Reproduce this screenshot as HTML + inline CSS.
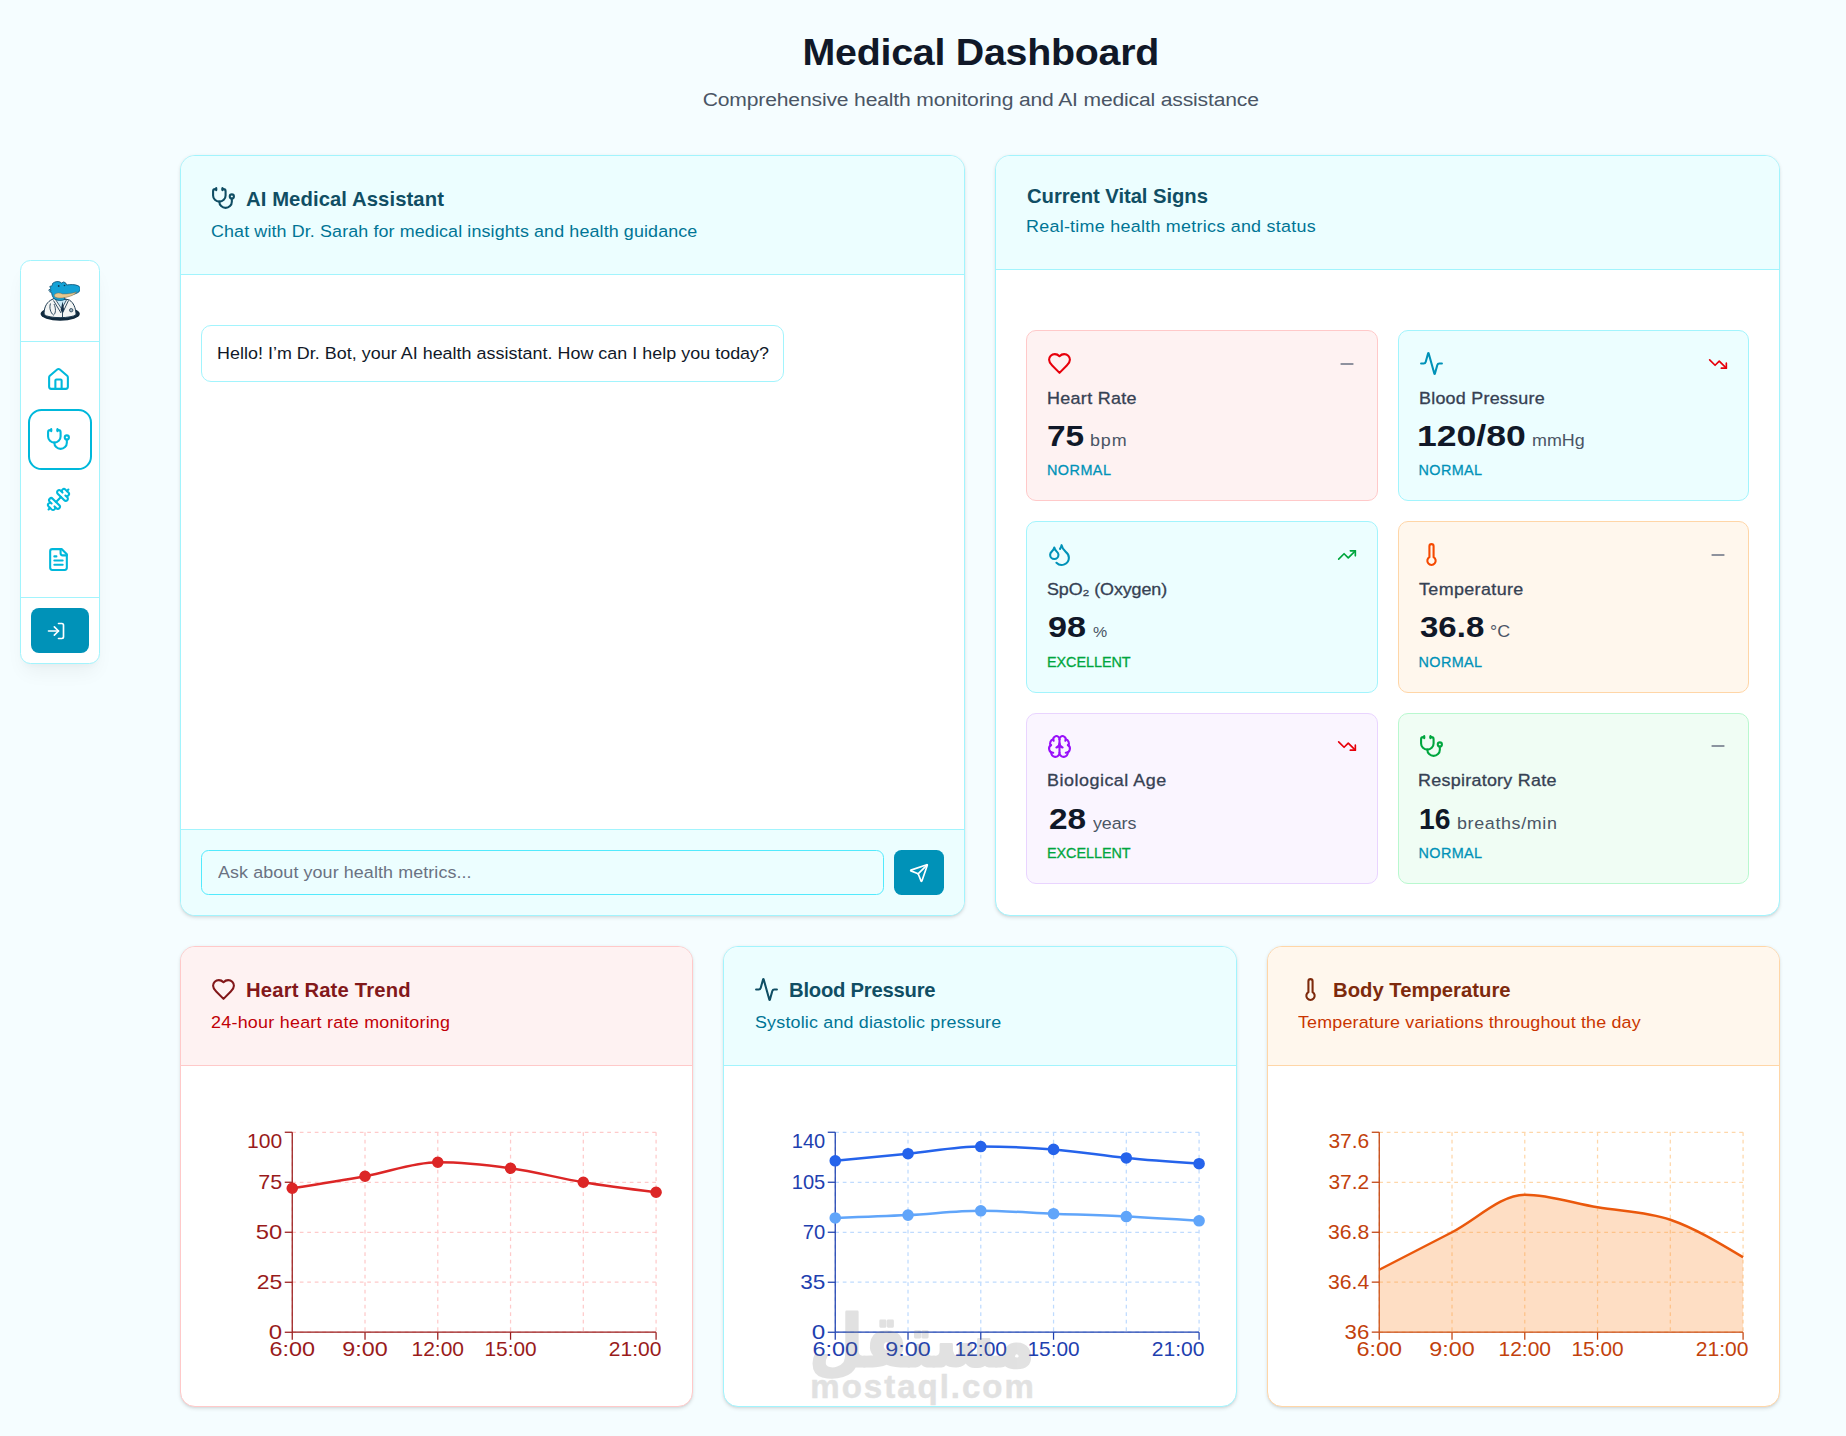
<!DOCTYPE html>
<html lang="en">
<head>
<meta charset="utf-8">
<title>Medical Dashboard</title>
<style>
*{box-sizing:border-box}
html,body{margin:0;padding:0}
body{width:1846px;height:1436px;overflow:hidden;position:relative;background:#f5fdff;font-family:"Liberation Sans",sans-serif;color:#101828;-webkit-font-smoothing:antialiased}
h1,h2,p{margin:0}
svg.ic{display:block;flex:none}
/* sidebar */
.side{position:absolute;left:20px;top:260px;width:80px;background:#fff;border:1px solid #a2f4fd;border-radius:10.5px;box-shadow:0 12px 19px -4px rgba(0,0,0,.05),0 5px 8px -5px rgba(0,0,0,.05)}
.s-logo{height:81px;border-bottom:1px solid #a2f4fd;display:flex;align-items:center;justify-content:center}
.s-logo svg{display:block}
.s-nav{padding:7.5px 0;display:flex;flex-direction:column;align-items:center}
.ni{width:78px;height:60px;display:flex;align-items:center;justify-content:center;position:relative}
.ni svg{position:relative;left:-1.5px}
.ni.act::before{content:"";position:absolute;left:7.4px;top:-0.6px;width:63.2px;height:61.2px;border:2.7px solid #00b8db;border-radius:13.5px;box-sizing:border-box}
.s-bot{border-top:1px solid #a2f4fd;padding:10px}
.login{display:flex;align-items:center;justify-content:center;width:58px;height:45px;border:0;border-radius:8px;background:#0092b8;padding:0;margin:0}
/* main */
main{position:absolute;left:180px;top:0;width:1600px}
.ph{padding-top:30px;text-align:center;height:155px}
.ph h1{font-size:37.5px;line-height:45px;font-weight:700;color:#101828}
.ph p{margin-top:10px;font-size:19.2px;line-height:30px;color:#4a5565}
.row1{display:flex;gap:30px;height:761px}
.row1 .card{width:785px;height:761px;display:flex;flex-direction:column}
.row2{display:flex;gap:30px;margin-top:30px}
.row2 .card{flex:1 1 0;min-width:0}
.card{background:#fff;border:1px solid #a2f4fd;border-radius:15px;overflow:hidden;box-shadow:0 1.25px 3.75px rgba(0,0,0,.1),0 1.25px 2.5px -1.25px rgba(0,0,0,.1);position:relative}
.chead{padding:30px;background:#ecfeff;border-bottom:1px solid #a2f4fd}
.ctitle{display:flex;align-items:center;gap:10px}
.ctitle h2{font-size:19.3px;line-height:20px;font-weight:700;color:#104e64}
.cdesc{margin-top:7.5px;font-size:16.3px;line-height:25px;color:#007595}
/* chat */
.msgs{flex:1;padding:50px 20px 20px}
.bubble{display:inline-block;padding:15px;border:1px solid #a2f4fd;border-radius:10px;background:#fff;font-size:16.3px;line-height:25px;color:#101828;white-space:nowrap;width:583.3px}
.inrow{border-top:1px solid #a2f4fd;background:#ecfeff;padding:20px;display:flex;gap:10px}
.inp{flex:1;height:45px;border:1px solid #53eafd;border-radius:7.5px;background:#ecfeff;padding:0 15px;font-size:16.3px;line-height:43px;color:#6a7282}
.send{width:50px;height:45px;border:0;border-radius:7.5px;background:#0092b8;display:flex;align-items:center;justify-content:center;padding:0}
/* vitals */
.vgrid{padding:60.5px 30px 30px;display:grid;grid-template-columns:1fr 1fr;column-gap:20px;row-gap:20px}
.vc{height:171.4px;border:1px solid;border-radius:10px;padding:20px}
.vc.red{background:#fef2f2;border-color:#ffc9c9}
.vc.cyan{background:#ecfeff;border-color:#a2f4fd}
.vc.orange{background:#fff7ed;border-color:#ffd6a7}
.vc.purple{background:#faf5ff;border-color:#e9d4ff}
.vc.green{background:#f0fdf4;border-color:#b9f8cf}
.vtop{display:flex;align-items:center;justify-content:space-between;height:25px}
.vlab{margin-top:9.7px;font-size:16.3px;line-height:25px;color:#364153}
.vval{margin-top:5.3px;line-height:40px;height:40px;white-space:nowrap}
.vval .num{font-size:30px;font-weight:700;color:#101828}
.vval .unit{font-size:16.3px;color:#4a5565}
.vst{margin-top:4.5px;font-size:14.4px;line-height:20px;text-transform:uppercase}
.vval .unit{margin-left:6px}
.vst.norm{color:#0092b8}
.vst.exc{color:#00a63e}
/* chart cards */
.cc.c-red{border-color:#ffc9c9}
.cc.c-red .chead{background:#fef2f2;border-color:#ffc9c9}
.cc.c-red h2{color:#82181a}
.cc.c-red .cdesc{color:#c10007}
.cc.c-orange{border-color:#ffd6a7}
.cc.c-orange .chead{background:#fff7ed;border-color:#ffd6a7}
.cc.c-orange h2{color:#7e2a0c}
.cc.c-orange .cdesc{color:#ca3500}
.cbody{padding:60px 30px 30px;position:relative}
/* watermark */
.wm{position:absolute;left:0;top:0;width:100%;height:100%;color:#6e6e6e;opacity:.2;font-weight:700;pointer-events:none}
.wm-ar{position:absolute;left:60px;top:200px;overflow:visible}
.wm-en{position:absolute;left:86px;top:303px;font-family:"Liberation Sans",sans-serif;font-size:33px;line-height:36px;letter-spacing:2px;white-space:nowrap;-webkit-text-stroke:.6px #6e6e6e}
.vlab,.vst{-webkit-text-stroke:.3px currentColor}
.login svg{position:relative;left:-3.6px}
#v3-unit{font-size:14.5px}
.ctitle h2{position:relative;top:.7px}
.ctitle svg+h2{top:1.5px}

/* per-run tracking to match reference metrics */
#c1-desc{letter-spacing:0.23px;display:inline-block;white-space:nowrap;transform:scaleX(1.100);transform-origin:0 50%}
#c1-title{letter-spacing:0.16px;display:inline-block;white-space:nowrap;transform:scaleX(1.050);transform-origin:0 50%}
#c2-desc{letter-spacing:0.16px;display:inline-block;white-space:nowrap;transform:scaleX(1.100);transform-origin:0 50%;position:relative;left:1.0px}
#c2-title{letter-spacing:-0.22px;display:inline-block;white-space:nowrap;transform:scaleX(1.050);transform-origin:0 50%}
#c3-desc{letter-spacing:0.14px;display:inline-block;white-space:nowrap;transform:scaleX(1.100);transform-origin:0 50%;position:relative;left:0.5px}
#c3-title{letter-spacing:0.01px;display:inline-block;white-space:nowrap;transform:scaleX(1.050);transform-origin:0 50%}
#t-bubble{letter-spacing:0.02px;display:inline-block;white-space:nowrap;transform:scaleX(1.100);transform-origin:0 50%}
#t-chat-desc{letter-spacing:0.10px;display:inline-block;white-space:nowrap;transform:scaleX(1.100);transform-origin:0 50%}
#t-chat-title{letter-spacing:0.09px;display:inline-block;white-space:nowrap;transform:scaleX(1.050);transform-origin:0 50%}
#t-h1{letter-spacing:-0.25px;display:inline-block;white-space:nowrap;transform:scaleX(1.050);transform-origin:50% 50%;position:relative;left:0.6px}
#t-ph{letter-spacing:0.08px;display:inline-block;white-space:nowrap;transform:scaleX(1.100);transform-origin:0 50%;position:relative;left:1.3px}
#t-sub{letter-spacing:-0.15px;display:inline-block;white-space:nowrap;transform:scaleX(1.100);transform-origin:50% 50%;position:relative;left:0.5px}
#t-vit-desc{letter-spacing:0.24px;display:inline-block;white-space:nowrap;transform:scaleX(1.100);transform-origin:0 50%}
#t-vit-title{letter-spacing:-0.05px;display:inline-block;white-space:nowrap;transform:scaleX(1.050);transform-origin:0 50%;position:relative;left:0.6px}
#v1-lab{letter-spacing:0.30px;display:inline-block;white-space:nowrap;transform:scaleX(1.100);transform-origin:0 50%}
#v1-num{display:inline-block;white-space:nowrap;transform:scaleX(1.114);transform-origin:0 50%}
#v1-st{letter-spacing:0.47px}
#v1-unit{letter-spacing:0.81px;display:inline-block;white-space:nowrap;transform:scaleX(1.100);transform-origin:0 50%;margin-left:9.4px}
#v2-lab{letter-spacing:0.22px;display:inline-block;white-space:nowrap;transform:scaleX(1.100);transform-origin:0 50%}
#v2-num{display:inline-block;white-space:nowrap;transform:scaleX(1.186);transform-origin:0 50%;position:relative;left:-1.4px}
#v2-st{letter-spacing:0.40px}
#v2-unit{display:inline-block;white-space:nowrap;transform:scaleX(1.100);transform-origin:0 50%;margin-left:21.8px}
#v3-lab{letter-spacing:-0.10px;display:inline-block;white-space:nowrap;transform:scaleX(1.100);transform-origin:0 50%}
#v3-num{display:inline-block;white-space:nowrap;transform:scaleX(1.140);transform-origin:0 50%;position:relative;left:1.0px}
#v3-st{letter-spacing:-0.04px}
#v3-unit{display:inline-block;white-space:nowrap;transform:scaleX(1.100);transform-origin:0 50%;margin-left:12.4px}
#v4-lab{letter-spacing:0.34px;display:inline-block;white-space:nowrap;transform:scaleX(1.100);transform-origin:0 50%;position:relative;left:0.2px}
#v4-num{display:inline-block;white-space:nowrap;transform:scaleX(1.101);transform-origin:0 50%;position:relative;left:1.0px}
#v4-st{letter-spacing:0.40px}
#v4-unit{display:inline-block;white-space:nowrap;transform:scaleX(1.100);transform-origin:0 50%;margin-left:12.8px}
#v5-lab{letter-spacing:0.47px;display:inline-block;white-space:nowrap;transform:scaleX(1.100);transform-origin:0 50%}
#v5-num{display:inline-block;white-space:nowrap;transform:scaleX(1.112);transform-origin:0 50%;position:relative;left:1.5px}
#v5-st{letter-spacing:-0.04px}
#v5-unit{letter-spacing:-0.08px;display:inline-block;white-space:nowrap;transform:scaleX(1.100);transform-origin:0 50%;margin-left:12.4px}
#v6-lab{letter-spacing:0.25px;display:inline-block;white-space:nowrap;transform:scaleX(1.100);transform-origin:0 50%;position:relative;left:-0.8px}
#v6-num{display:inline-block;white-space:nowrap;transform:scaleX(0.943);transform-origin:0 50%}
#v6-st{letter-spacing:0.40px}
#v6-unit{letter-spacing:0.58px;display:inline-block;white-space:nowrap;transform:scaleX(1.100);transform-origin:0 50%;margin-left:5.5px}
</style>
</head>
<body>
<aside class="side">
  <div class="s-logo"><svg class="logo" width="40" height="40" viewBox="0 0 40 40">
<ellipse cx="20.2" cy="32.8" rx="19.6" ry="6.9" fill="#10293c"/>
<path d="M4.2 33.5c-.4-6 1.8-11.5 6.5-14.3l3.3-1.7h9.5l6 1.6c4 2.6 6.2 7.6 6.6 14.4-4 4.2-28 4.2-31.9 0z" fill="#f3f5f4" stroke="#1d3a50" stroke-width="1"/>
<path d="M15.5 18.5l6.2 9.5 5-9.5z" fill="#c9e9f6" stroke="#1d3a50" stroke-width=".8"/>
<path d="M22.6 20.5l1.6 8.5-1.9 3.2-1.7-3.2z" fill="#17324a"/>
<path d="M13.5 19.5l7.5 12.5M28.5 19.5l-6 12.5v5" fill="none" stroke="#1d3a50" stroke-width=".9"/>
<path d="M10.5 22.5c-1.5 4 0 9.5 3 11.5 2.5-1.5 2.5-7 .5-11" fill="none" stroke="#1d3a50" stroke-width=".9"/>
<circle cx="31.2" cy="29.2" r="1.7" fill="#9fb3bf" stroke="#1d3a50" stroke-width=".8"/>
<path d="M8.6 9.2l2.1-1.5-.9-2.3 2.4-.7.3-2.2c2.4-2 5.2-2.5 7.5-1.5l1.5 1 2.3-1.1 2.2 1.4.6 1.7c3.5-.5 8-.8 11.2.6 2.2.9 3 2.8 2.3 4.6-.8 2-3.2 3.2-6.2 4l-9.5 2.7.5 2.5c-3 1.6-7 1.5-10.6-.4-1.7-2-2.6-4.4-2.7-6.6l-2-.5 1.5-1.8z" fill="#14a2d6" stroke="#0d4f72" stroke-width=".8" stroke-linejoin="round"/>
<path d="M14.7 13.3c2.5-1.8 5.5-1.6 7.8-.4 4.5.2 9.5-.5 14-2-1.5 2.7-6 4.6-11.5 5.6-3.5.7-7.5.9-9.5-.2-1.3-.7-1.6-2.1-.8-3z" fill="#e6c88e" stroke="#7a6a52" stroke-width=".5"/>
<circle cx="18.7" cy="5" r=".9" fill="#0d3550"/><circle cx="24.5" cy="4.5" r=".8" fill="#0d3550"/>
</svg>
</div>
  <nav class="s-nav">
    <a class="ni"><svg class="ic " width="25" height="25" viewBox="0 0 24 24" fill="none" stroke="#00b8db" stroke-width="2" stroke-linecap="round" stroke-linejoin="round" style=""><path d="M15 21v-8a1 1 0 0 0-1-1h-4a1 1 0 0 0-1 1v8"/><path d="M3 10a2 2 0 0 1 .709-1.528l7-5.999a2 2 0 0 1 2.582 0l7 5.999A2 2 0 0 1 21 10v9a2 2 0 0 1-2 2H5a2 2 0 0 1-2-2z"/></svg></a>
    <a class="ni act"><svg class="ic " width="25" height="25" viewBox="0 0 24 24" fill="none" stroke="#00b8db" stroke-width="2" stroke-linecap="round" stroke-linejoin="round" style=""><path d="M11 2v2"/><path d="M5 2v2"/><path d="M5 3H4a2 2 0 0 0-2 2v4a6 6 0 0 0 12 0V5a2 2 0 0 0-2-2h-1"/><path d="M8 15a6 6 0 0 0 12 0v-3"/><circle cx="20" cy="10" r="2"/></svg></a>
    <a class="ni"><svg class="ic " width="25" height="25" viewBox="0 0 24 24" fill="none" stroke="#00b8db" stroke-width="2" stroke-linecap="round" stroke-linejoin="round" style=""><path d="M17.596 12.768a2 2 0 1 0 2.829-2.829l-1.768-1.767a2 2 0 0 0 2.828-2.829l-2.828-2.828a2 2 0 0 0-2.829 2.828l-1.767-1.768a2 2 0 1 0-2.829 2.829z"/><path d="m2.5 21.5 1.4-1.4"/><path d="m20.1 3.9 1.4-1.4"/><path d="M5.343 21.485a2 2 0 1 0 2.829-2.828l1.767 1.768a2 2 0 1 0 2.829-2.829l-6.364-6.364a2 2 0 1 0-2.829 2.829l1.768 1.767a2 2 0 0 0-2.828 2.829z"/><path d="m9.6 14.4 4.8-4.8"/></svg></a>
    <a class="ni"><svg class="ic " width="25" height="25" viewBox="0 0 24 24" fill="none" stroke="#00b8db" stroke-width="2" stroke-linecap="round" stroke-linejoin="round" style=""><path d="M15 2H6a2 2 0 0 0-2 2v16a2 2 0 0 0 2 2h12a2 2 0 0 0 2-2V7Z"/><path d="M14 2v4a2 2 0 0 0 2 2h4"/><path d="M10 9H8"/><path d="M16 13H8"/><path d="M16 17H8"/></svg></a>
  </nav>
  <div class="s-bot"><button class="login"><svg class="ic " width="20" height="20" viewBox="0 0 24 24" fill="none" stroke="#ffffff" stroke-width="2" stroke-linecap="round" stroke-linejoin="round" style=""><path d="M15 3h4a2 2 0 0 1 2 2v14a2 2 0 0 1-2 2h-4"/><polyline points="10 17 15 12 10 7"/><line x1="15" x2="3" y1="12" y2="12"/></svg></button></div>
</aside>
<main>
  <header class="ph">
    <h1><span id="t-h1">Medical Dashboard</span></h1>
    <p><span id="t-sub">Comprehensive health monitoring and AI medical assistance</span></p>
  </header>
  <div class="row1">
    <section class="card chat">
      <div class="chead"><div class="ctitle"><svg class="ic " width="25" height="25" viewBox="0 0 24 24" fill="none" stroke="#104e64" stroke-width="2" stroke-linecap="round" stroke-linejoin="round" style=""><path d="M11 2v2"/><path d="M5 2v2"/><path d="M5 3H4a2 2 0 0 0-2 2v4a6 6 0 0 0 12 0V5a2 2 0 0 0-2-2h-1"/><path d="M8 15a6 6 0 0 0 12 0v-3"/><circle cx="20" cy="10" r="2"/></svg><h2><span id="t-chat-title">AI Medical Assistant</span></h2></div><p class="cdesc"><span id="t-chat-desc">Chat with Dr. Sarah for medical insights and health guidance</span></p></div>
      <div class="msgs"><div class="bubble"><span id="t-bubble">Hello! I’m Dr. Bot, your AI health assistant. How can I help you today?</span></div></div>
      <div class="inrow"><div class="inp"><span id="t-ph">Ask about your health metrics...</span></div><button class="send"><svg class="ic " width="20" height="20" viewBox="0 0 24 24" fill="none" stroke="#ffffff" stroke-width="2" stroke-linecap="round" stroke-linejoin="round" style=""><path d="M14.536 21.686a.5.5 0 0 0 .937-.024l6.5-19a.496.496 0 0 0-.635-.635l-19 6.5a.5.5 0 0 0-.024.937l7.93 3.18a2 2 0 0 1 1.112 1.11z"/><path d="m21.854 2.147-10.94 10.939"/></svg></button></div>
    </section>
    <section class="card vit">
      <div class="chead"><div class="ctitle"><h2><span id="t-vit-title">Current Vital Signs</span></h2></div><p class="cdesc"><span id="t-vit-desc">Real-time health metrics and status</span></p></div>
      <div class="vgrid">
<div class="vc red">
  <div class="vtop"><svg class="ic " width="25" height="25" viewBox="0 0 24 24" fill="none" stroke="#e7000b" stroke-width="2" stroke-linecap="round" stroke-linejoin="round" style=""><path d="M19 14c1.49-1.46 3-3.21 3-5.5A5.5 5.5 0 0 0 16.5 3c-1.76 0-3 .5-4.5 2-1.5-1.5-2.74-2-4.5-2A5.5 5.5 0 0 0 2 8.5c0 2.3 1.5 4.05 3 5.5l7 7Z"/></svg><svg class="ic " width="20" height="20" viewBox="0 0 24 24" fill="none" stroke="#6a7282" stroke-width="2" stroke-linecap="round" stroke-linejoin="round" style=""><path d="M5 12h14"/></svg></div>
  <div class="vlab"><span id="v1-lab">Heart Rate</span></div>
  <div class="vval"><span class="num" id="v1-num">75</span><span class="unit" id="v1-unit">bpm</span></div>
  <div class="vst norm"><span id="v1-st">NORMAL</span></div>
</div>
<div class="vc cyan">
  <div class="vtop"><svg class="ic " width="25" height="25" viewBox="0 0 24 24" fill="none" stroke="#0092b8" stroke-width="2" stroke-linecap="round" stroke-linejoin="round" style=""><path d="M22 12h-2.48a2 2 0 0 0-1.93 1.46l-2.35 8.36a.25.25 0 0 1-.48 0L9.24 2.18a.25.25 0 0 0-.48 0l-2.35 8.36A2 2 0 0 1 4.49 12H2"/></svg><svg class="ic " width="20" height="20" viewBox="0 0 24 24" fill="none" stroke="#e7000b" stroke-width="2" stroke-linecap="round" stroke-linejoin="round" style=""><polyline points="22 17 13.5 8.5 8.5 13.5 2 7"/><polyline points="16 17 22 17 22 11"/></svg></div>
  <div class="vlab"><span id="v2-lab">Blood Pressure</span></div>
  <div class="vval"><span class="num" id="v2-num">120/80</span><span class="unit" id="v2-unit">mmHg</span></div>
  <div class="vst norm"><span id="v2-st">NORMAL</span></div>
</div>
<div class="vc cyan">
  <div class="vtop"><svg class="ic " width="25" height="25" viewBox="0 0 24 24" fill="none" stroke="#0092b8" stroke-width="2" stroke-linecap="round" stroke-linejoin="round" style=""><path d="M7 16.3c2.2 0 4-1.83 4-4.05 0-1.16-.57-2.26-1.71-3.19S7.29 6.75 7 5.3c-.29 1.45-1.14 2.84-2.29 3.76S3 11.1 3 12.25c0 2.22 1.8 4.05 4 4.05z"/><path d="M12.56 6.6A10.97 10.97 0 0 0 14 3.02c.5 2.5 2 4.9 4 6.5s3 3.5 3 5.5a6.98 6.98 0 0 1-11.91 4.97"/></svg><svg class="ic " width="20" height="20" viewBox="0 0 24 24" fill="none" stroke="#00a63e" stroke-width="2" stroke-linecap="round" stroke-linejoin="round" style=""><polyline points="22 7 13.5 15.5 8.5 10.5 2 17"/><polyline points="16 7 22 7 22 13"/></svg></div>
  <div class="vlab"><span id="v3-lab">SpO₂ (Oxygen)</span></div>
  <div class="vval"><span class="num" id="v3-num">98</span><span class="unit" id="v3-unit">%</span></div>
  <div class="vst exc"><span id="v3-st">EXCELLENT</span></div>
</div>
<div class="vc orange">
  <div class="vtop"><svg class="ic " width="25" height="25" viewBox="0 0 24 24" fill="none" stroke="#f54900" stroke-width="2" stroke-linecap="round" stroke-linejoin="round" style=""><path d="M14 4v10.54a4 4 0 1 1-4 0V4a2 2 0 0 1 4 0Z"/></svg><svg class="ic " width="20" height="20" viewBox="0 0 24 24" fill="none" stroke="#6a7282" stroke-width="2" stroke-linecap="round" stroke-linejoin="round" style=""><path d="M5 12h14"/></svg></div>
  <div class="vlab"><span id="v4-lab">Temperature</span></div>
  <div class="vval"><span class="num" id="v4-num">36.8</span><span class="unit" id="v4-unit">°C</span></div>
  <div class="vst norm"><span id="v4-st">NORMAL</span></div>
</div>
<div class="vc purple">
  <div class="vtop"><svg class="ic " width="25" height="25" viewBox="0 0 24 24" fill="none" stroke="#9810fa" stroke-width="2" stroke-linecap="round" stroke-linejoin="round" style=""><path d="M12 18V5"/><path d="M15 13a4.17 4.17 0 0 1-3-4 4.17 4.17 0 0 1-3 4"/><path d="M17.598 6.5A3 3 0 1 0 12 5a3 3 0 1 0-5.598 1.500"/><path d="M17.997 5.125a4 4 0 0 1 2.526 5.770"/><path d="M18 18a4 4 0 0 0 2-7.464"/><path d="M19.967 17.483A4 4 0 1 1 12 18a4 4 0 1 1-7.967-.517"/><path d="M6 18a4 4 0 0 1-2-7.464"/><path d="M6.003 5.125a4 4 0 0 0-2.526 5.770"/></svg><svg class="ic " width="20" height="20" viewBox="0 0 24 24" fill="none" stroke="#e7000b" stroke-width="2" stroke-linecap="round" stroke-linejoin="round" style=""><polyline points="22 17 13.5 8.5 8.5 13.5 2 7"/><polyline points="16 17 22 17 22 11"/></svg></div>
  <div class="vlab"><span id="v5-lab">Biological Age</span></div>
  <div class="vval"><span class="num" id="v5-num">28</span><span class="unit" id="v5-unit">years</span></div>
  <div class="vst exc"><span id="v5-st">EXCELLENT</span></div>
</div>
<div class="vc green">
  <div class="vtop"><svg class="ic " width="25" height="25" viewBox="0 0 24 24" fill="none" stroke="#00a63e" stroke-width="2" stroke-linecap="round" stroke-linejoin="round" style=""><path d="M11 2v2"/><path d="M5 2v2"/><path d="M5 3H4a2 2 0 0 0-2 2v4a6 6 0 0 0 12 0V5a2 2 0 0 0-2-2h-1"/><path d="M8 15a6 6 0 0 0 12 0v-3"/><circle cx="20" cy="10" r="2"/></svg><svg class="ic " width="20" height="20" viewBox="0 0 24 24" fill="none" stroke="#6a7282" stroke-width="2" stroke-linecap="round" stroke-linejoin="round" style=""><path d="M5 12h14"/></svg></div>
  <div class="vlab"><span id="v6-lab">Respiratory Rate</span></div>
  <div class="vval"><span class="num" id="v6-num">16</span><span class="unit" id="v6-unit">breaths/min</span></div>
  <div class="vst norm"><span id="v6-st">NORMAL</span></div>
</div>
      </div>
    </section>
  </div>
  <div class="row2">
    <section class="card cc c-red">
  <div class="chead"><div class="ctitle"><svg class="ic " width="25" height="25" viewBox="0 0 24 24" fill="none" stroke="#82181a" stroke-width="2" stroke-linecap="round" stroke-linejoin="round" style=""><path d="M19 14c1.49-1.46 3-3.21 3-5.5A5.5 5.5 0 0 0 16.5 3c-1.76 0-3 .5-4.5 2-1.5-1.5-2.74-2-4.5-2A5.5 5.5 0 0 0 2 8.5c0 2.3 1.5 4.05 3 5.5l7 7Z"/></svg><h2><span id="c1-title">Heart Rate Trend</span></h2></div><p class="cdesc"><span id="c1-desc">24-hour heart rate monitoring</span></p></div>
  <div class="cbody"><svg class="chart" width="451.33" height="250" viewBox="0 0 451.33 250" style="display:block;overflow:visible">
<g stroke="#fecaca" stroke-width="1.25" stroke-dasharray="3.75 3.75" fill="none">
<line x1="81.25" x2="445.08" y1="206.25" y2="206.25"/>
<line x1="81.25" x2="445.08" y1="156.25" y2="156.25"/>
<line x1="81.25" x2="445.08" y1="106.25" y2="106.25"/>
<line x1="81.25" x2="445.08" y1="56.25" y2="56.25"/>
<line x1="81.25" x2="445.08" y1="6.25" y2="6.25"/>
<line x1="81.25" x2="81.25" y1="6.25" y2="206.25"/>
<line x1="154.02" x2="154.02" y1="6.25" y2="206.25"/>
<line x1="226.78" x2="226.78" y1="6.25" y2="206.25"/>
<line x1="299.55" x2="299.55" y1="6.25" y2="206.25"/>
<line x1="372.31" x2="372.31" y1="6.25" y2="206.25"/>
<line x1="445.08" x2="445.08" y1="6.25" y2="206.25"/>
</g>
<g stroke="#991b1b" stroke-width="1.25" fill="none">
<line x1="81.25" x2="445.08" y1="206.25" y2="206.25"/>
<line x1="81.25" x2="81.25" y1="6.25" y2="206.25"/>
<line x1="81.25" x2="81.25" y1="206.25" y2="213.75"/>
<line x1="154.02" x2="154.02" y1="206.25" y2="213.75"/>
<line x1="226.78" x2="226.78" y1="206.25" y2="213.75"/>
<line x1="299.55" x2="299.55" y1="206.25" y2="213.75"/>
<line x1="445.08" x2="445.08" y1="206.25" y2="213.75"/>
<line x1="73.75" x2="81.25" y1="206.25" y2="206.25"/>
<line x1="73.75" x2="81.25" y1="156.25" y2="156.25"/>
<line x1="73.75" x2="81.25" y1="106.25" y2="106.25"/>
<line x1="73.75" x2="81.25" y1="56.25" y2="56.25"/>
<line x1="73.75" x2="81.25" y1="6.25" y2="6.25"/>
</g>
<path d="M81.25,62.25C105.51,58.42,129.76,54.58,154.02,50.25C178.27,45.92,202.53,36.25,226.78,36.25C251.04,36.25,275.29,38.92,299.55,42.25C323.80,45.58,348.06,52.25,372.31,56.25C396.57,60.25,420.82,63.25,445.08,66.25" fill="none" stroke="#dc2626" stroke-width="2.5"/>
<circle cx="81.25" cy="62.25" r="5" fill="#dc2626" stroke="#dc2626" stroke-width="1.6"/>
<circle cx="154.02" cy="50.25" r="5" fill="#dc2626" stroke="#dc2626" stroke-width="1.6"/>
<circle cx="226.78" cy="36.25" r="5" fill="#dc2626" stroke="#dc2626" stroke-width="1.6"/>
<circle cx="299.55" cy="42.25" r="5" fill="#dc2626" stroke="#dc2626" stroke-width="1.6"/>
<circle cx="372.31" cy="56.25" r="5" fill="#dc2626" stroke="#dc2626" stroke-width="1.6"/>
<circle cx="445.08" cy="66.25" r="5" fill="#dc2626" stroke="#dc2626" stroke-width="1.6"/>
<g fill="#991b1b" font-family="Liberation Sans, sans-serif" font-size="20">
<text x="81.25" y="230.45" text-anchor="middle" textLength="45.6" lengthAdjust="spacingAndGlyphs">6:00</text>
<text x="154.02" y="230.45" text-anchor="middle" textLength="45.4" lengthAdjust="spacingAndGlyphs">9:00</text>
<text x="226.78" y="230.45" text-anchor="middle" textLength="52.6" lengthAdjust="spacingAndGlyphs">12:00</text>
<text x="299.55" y="230.45" text-anchor="middle" textLength="52.2" lengthAdjust="spacingAndGlyphs">15:00</text>
<text x="450.53" y="230.45" text-anchor="end" textLength="52.7" lengthAdjust="spacingAndGlyphs">21:00</text>
<text x="71.25" y="213.35" text-anchor="end" textLength="13.4" lengthAdjust="spacingAndGlyphs">0</text>
<text x="71.25" y="163.35" text-anchor="end" textLength="25.6" lengthAdjust="spacingAndGlyphs">25</text>
<text x="71.25" y="113.35" text-anchor="end" textLength="26.5" lengthAdjust="spacingAndGlyphs">50</text>
<text x="71.25" y="63.35" text-anchor="end" textLength="23.9" lengthAdjust="spacingAndGlyphs">75</text>
<text x="71.25" y="21.95" text-anchor="end" textLength="35.2" lengthAdjust="spacingAndGlyphs">100</text>
</g></svg></div>
</section>
    <section class="card cc c-cyan">
  <div class="chead"><div class="ctitle"><svg class="ic " width="25" height="25" viewBox="0 0 24 24" fill="none" stroke="#104e64" stroke-width="2" stroke-linecap="round" stroke-linejoin="round" style=""><path d="M22 12h-2.48a2 2 0 0 0-1.93 1.46l-2.35 8.36a.25.25 0 0 1-.48 0L9.24 2.18a.25.25 0 0 0-.48 0l-2.35 8.36A2 2 0 0 1 4.49 12H2"/></svg><h2><span id="c2-title">Blood Pressure</span></h2></div><p class="cdesc"><span id="c2-desc">Systolic and diastolic pressure</span></p></div>
  <div class="cbody"><svg class="chart" width="451.33" height="250" viewBox="0 0 451.33 250" style="display:block;overflow:visible">
<g stroke="#bfdbfe" stroke-width="1.25" stroke-dasharray="3.75 3.75" fill="none">
<line x1="81.25" x2="445.08" y1="206.25" y2="206.25"/>
<line x1="81.25" x2="445.08" y1="156.25" y2="156.25"/>
<line x1="81.25" x2="445.08" y1="106.25" y2="106.25"/>
<line x1="81.25" x2="445.08" y1="56.25" y2="56.25"/>
<line x1="81.25" x2="445.08" y1="6.25" y2="6.25"/>
<line x1="81.25" x2="81.25" y1="6.25" y2="206.25"/>
<line x1="154.02" x2="154.02" y1="6.25" y2="206.25"/>
<line x1="226.78" x2="226.78" y1="6.25" y2="206.25"/>
<line x1="299.55" x2="299.55" y1="6.25" y2="206.25"/>
<line x1="372.31" x2="372.31" y1="6.25" y2="206.25"/>
<line x1="445.08" x2="445.08" y1="6.25" y2="206.25"/>
</g>
<g stroke="#1e40af" stroke-width="1.25" fill="none">
<line x1="81.25" x2="445.08" y1="206.25" y2="206.25"/>
<line x1="81.25" x2="81.25" y1="6.25" y2="206.25"/>
<line x1="81.25" x2="81.25" y1="206.25" y2="213.75"/>
<line x1="154.02" x2="154.02" y1="206.25" y2="213.75"/>
<line x1="226.78" x2="226.78" y1="206.25" y2="213.75"/>
<line x1="299.55" x2="299.55" y1="206.25" y2="213.75"/>
<line x1="445.08" x2="445.08" y1="206.25" y2="213.75"/>
<line x1="73.75" x2="81.25" y1="206.25" y2="206.25"/>
<line x1="73.75" x2="81.25" y1="156.25" y2="156.25"/>
<line x1="73.75" x2="81.25" y1="106.25" y2="106.25"/>
<line x1="73.75" x2="81.25" y1="56.25" y2="56.25"/>
<line x1="73.75" x2="81.25" y1="6.25" y2="6.25"/>
</g>
<path d="M81.25,34.82C105.51,32.44,129.76,30.06,154.02,27.68C178.27,25.30,202.53,20.54,226.78,20.54C251.04,20.54,275.29,21.49,299.55,23.39C323.80,25.30,348.06,29.58,372.31,31.96C396.57,34.35,420.82,36.01,445.08,37.68" fill="none" stroke="#2563eb" stroke-width="2.5"/>
<circle cx="81.25" cy="34.82" r="5" fill="#2563eb" stroke="#2563eb" stroke-width="1.6"/>
<circle cx="154.02" cy="27.68" r="5" fill="#2563eb" stroke="#2563eb" stroke-width="1.6"/>
<circle cx="226.78" cy="20.54" r="5" fill="#2563eb" stroke="#2563eb" stroke-width="1.6"/>
<circle cx="299.55" cy="23.39" r="5" fill="#2563eb" stroke="#2563eb" stroke-width="1.6"/>
<circle cx="372.31" cy="31.96" r="5" fill="#2563eb" stroke="#2563eb" stroke-width="1.6"/>
<circle cx="445.08" cy="37.68" r="5" fill="#2563eb" stroke="#2563eb" stroke-width="1.6"/>
<path d="M81.25,91.96C105.51,91.13,129.76,90.30,154.02,89.11C178.27,87.92,202.53,84.82,226.78,84.82C251.04,84.82,275.29,86.73,299.55,87.68C323.80,88.63,348.06,89.35,372.31,90.54C396.57,91.73,420.82,93.27,445.08,94.82" fill="none" stroke="#60a5fa" stroke-width="2.5"/>
<circle cx="81.25" cy="91.96" r="5" fill="#60a5fa" stroke="#60a5fa" stroke-width="1.6"/>
<circle cx="154.02" cy="89.11" r="5" fill="#60a5fa" stroke="#60a5fa" stroke-width="1.6"/>
<circle cx="226.78" cy="84.82" r="5" fill="#60a5fa" stroke="#60a5fa" stroke-width="1.6"/>
<circle cx="299.55" cy="87.68" r="5" fill="#60a5fa" stroke="#60a5fa" stroke-width="1.6"/>
<circle cx="372.31" cy="90.54" r="5" fill="#60a5fa" stroke="#60a5fa" stroke-width="1.6"/>
<circle cx="445.08" cy="94.82" r="5" fill="#60a5fa" stroke="#60a5fa" stroke-width="1.6"/>
<g fill="#1e40af" font-family="Liberation Sans, sans-serif" font-size="20">
<text x="81.25" y="230.45" text-anchor="middle" textLength="45.6" lengthAdjust="spacingAndGlyphs">6:00</text>
<text x="154.02" y="230.45" text-anchor="middle" textLength="45.4" lengthAdjust="spacingAndGlyphs">9:00</text>
<text x="226.78" y="230.45" text-anchor="middle" textLength="52.6" lengthAdjust="spacingAndGlyphs">12:00</text>
<text x="299.55" y="230.45" text-anchor="middle" textLength="52.2" lengthAdjust="spacingAndGlyphs">15:00</text>
<text x="450.53" y="230.45" text-anchor="end" textLength="52.7" lengthAdjust="spacingAndGlyphs">21:00</text>
<text x="71.25" y="213.35" text-anchor="end" textLength="13.5" lengthAdjust="spacingAndGlyphs">0</text>
<text x="71.25" y="163.35" text-anchor="end" textLength="25.1" lengthAdjust="spacingAndGlyphs">35</text>
<text x="71.25" y="113.35" text-anchor="end" textLength="22.5" lengthAdjust="spacingAndGlyphs">70</text>
<text x="71.25" y="63.35" text-anchor="end" textLength="33.5" lengthAdjust="spacingAndGlyphs">105</text>
<text x="71.25" y="21.95" text-anchor="end" textLength="33.5" lengthAdjust="spacingAndGlyphs">140</text>
</g></svg><div class="wm"><svg class="wm-ar" width="300" height="110" viewBox="0 0 300 110"><text x="138" y="100" text-anchor="middle" direction="rtl" lang="ar" font-family="DejaVu Sans, sans-serif" font-weight="700" font-size="58" fill="#6e6e6e" stroke="#6e6e6e" stroke-width="2.4" stroke-linejoin="round" transform="translate(138 100) scale(1.06 1.22) translate(-138 -100)">مستقل</text></svg><div class="wm-en">mostaql.com</div></div></div>
</section>
    <section class="card cc c-orange">
  <div class="chead"><div class="ctitle"><svg class="ic " width="25" height="25" viewBox="0 0 24 24" fill="none" stroke="#7e2a0c" stroke-width="2" stroke-linecap="round" stroke-linejoin="round" style=""><path d="M14 4v10.54a4 4 0 1 1-4 0V4a2 2 0 0 1 4 0Z"/></svg><h2><span id="c3-title">Body Temperature</span></h2></div><p class="cdesc"><span id="c3-desc">Temperature variations throughout the day</span></p></div>
  <div class="cbody"><svg class="chart" width="451.33" height="250" viewBox="0 0 451.33 250" style="display:block;overflow:visible">
<g stroke="#fed7aa" stroke-width="1.25" stroke-dasharray="3.75 3.75" fill="none">
<line x1="81.25" x2="445.08" y1="206.25" y2="206.25"/>
<line x1="81.25" x2="445.08" y1="156.25" y2="156.25"/>
<line x1="81.25" x2="445.08" y1="106.25" y2="106.25"/>
<line x1="81.25" x2="445.08" y1="56.25" y2="56.25"/>
<line x1="81.25" x2="445.08" y1="6.25" y2="6.25"/>
<line x1="81.25" x2="81.25" y1="6.25" y2="206.25"/>
<line x1="154.02" x2="154.02" y1="6.25" y2="206.25"/>
<line x1="226.78" x2="226.78" y1="6.25" y2="206.25"/>
<line x1="299.55" x2="299.55" y1="6.25" y2="206.25"/>
<line x1="372.31" x2="372.31" y1="6.25" y2="206.25"/>
<line x1="445.08" x2="445.08" y1="6.25" y2="206.25"/>
</g>
<g stroke="#c2410c" stroke-width="1.25" fill="none">
<line x1="81.25" x2="445.08" y1="206.25" y2="206.25"/>
<line x1="81.25" x2="81.25" y1="6.25" y2="206.25"/>
<line x1="81.25" x2="81.25" y1="206.25" y2="213.75"/>
<line x1="154.02" x2="154.02" y1="206.25" y2="213.75"/>
<line x1="226.78" x2="226.78" y1="206.25" y2="213.75"/>
<line x1="299.55" x2="299.55" y1="206.25" y2="213.75"/>
<line x1="445.08" x2="445.08" y1="206.25" y2="213.75"/>
<line x1="73.75" x2="81.25" y1="206.25" y2="206.25"/>
<line x1="73.75" x2="81.25" y1="156.25" y2="156.25"/>
<line x1="73.75" x2="81.25" y1="106.25" y2="106.25"/>
<line x1="73.75" x2="81.25" y1="56.25" y2="56.25"/>
<line x1="73.75" x2="81.25" y1="6.25" y2="6.25"/>
</g>
<path d="M81.25,143.75C105.51,131.25,129.76,118.75,154.02,106.25C178.27,93.75,202.53,68.75,226.78,68.75C251.04,68.75,275.29,77.08,299.55,81.25C323.80,85.42,348.06,85.42,372.31,93.75C396.57,102.08,420.82,116.67,445.08,131.25L445.08,206.25L81.25,206.25Z" fill="#fb923c" fill-opacity="0.3" stroke="none"/>
<path d="M81.25,143.75C105.51,131.25,129.76,118.75,154.02,106.25C178.27,93.75,202.53,68.75,226.78,68.75C251.04,68.75,275.29,77.08,299.55,81.25C323.80,85.42,348.06,85.42,372.31,93.75C396.57,102.08,420.82,116.67,445.08,131.25" fill="none" stroke="#ea580c" stroke-width="2.5"/>
<g fill="#c2410c" font-family="Liberation Sans, sans-serif" font-size="20">
<text x="81.25" y="230.45" text-anchor="middle" textLength="45.6" lengthAdjust="spacingAndGlyphs">6:00</text>
<text x="154.02" y="230.45" text-anchor="middle" textLength="45.4" lengthAdjust="spacingAndGlyphs">9:00</text>
<text x="226.78" y="230.45" text-anchor="middle" textLength="52.6" lengthAdjust="spacingAndGlyphs">12:00</text>
<text x="299.55" y="230.45" text-anchor="middle" textLength="52.2" lengthAdjust="spacingAndGlyphs">15:00</text>
<text x="450.53" y="230.45" text-anchor="end" textLength="52.7" lengthAdjust="spacingAndGlyphs">21:00</text>
<text x="71.25" y="213.35" text-anchor="end" textLength="24.7" lengthAdjust="spacingAndGlyphs">36</text>
<text x="71.25" y="163.35" text-anchor="end" textLength="41.3" lengthAdjust="spacingAndGlyphs">36.4</text>
<text x="71.25" y="113.35" text-anchor="end" textLength="41.3" lengthAdjust="spacingAndGlyphs">36.8</text>
<text x="71.25" y="63.35" text-anchor="end" textLength="40.8" lengthAdjust="spacingAndGlyphs">37.2</text>
<text x="71.25" y="21.95" text-anchor="end" textLength="40.8" lengthAdjust="spacingAndGlyphs">37.6</text>
</g></svg></div>
</section>
  </div>
</main>
</body>
</html>
